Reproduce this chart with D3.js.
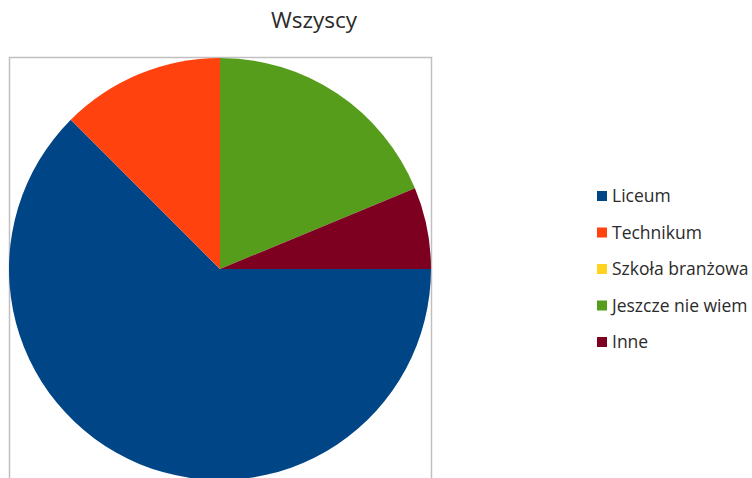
<!DOCTYPE html>
<html>
<head>
<meta charset="utf-8">
<script src="https://cdn.jsdelivr.net/npm/d3@7"></script>
<style>
  body { margin: 0; background: #fff; }
  text { font-family: "Open Sans", "DejaVu Sans", sans-serif; }
</style>
</head>
<body>
<div id="chart"></div>
<script>
var categories = ["Liceum", "Technikum", "Szkoła branżowa", "Jeszcze nie wiem", "Inne"];
var values = [20, 4, 0, 6, 2];
var colors = ["#004586", "#ff420e", "#ffd320", "#579d1c", "#7e0021"];
var title = "Wszyscy";

var width = 752, height = 478;

var svg = d3.select("#chart")
    .append("svg")
    .attr("width", width)
    .attr("height", height);

// title
svg.append("text")
    .attr("x", 314)
    .attr("y", 28)
    .attr("text-anchor", "middle")
    .style("font-size", "22.5px")
    .style("fill", "#2b2b2b")
    .text(title);

// plot frame
svg.append("rect")
    .attr("x", 9.5)
    .attr("y", 57.5)
    .attr("width", 422)
    .attr("height", 440)
    .attr("fill", "none")
    .attr("stroke", "#c0c0c0")
    .attr("stroke-width", 1.5);

var cx = 220, cy = 269, radius = 211;

// slices go clockwise from 3 o'clock
var pie = d3.pie()
    .sort(null)
    .startAngle(Math.PI / 2)
    .endAngle(Math.PI / 2 + 2 * Math.PI);

var arc = d3.arc()
    .innerRadius(0)
    .outerRadius(radius);

var color = d3.scaleOrdinal()
    .domain(categories)
    .range(colors);

svg.append("g")
    .attr("transform", "translate(" + cx + "," + cy + ")")
    .selectAll("path")
    .data(pie(values))
    .enter()
    .append("path")
    .attr("d", arc)
    .attr("fill", function(d, i){ return color(categories[i]); });

// legend
var legend = svg.selectAll(".legendItem")
    .data(categories)
    .enter()
    .append("g")
    .attr("class", "legendItem")
    .attr("transform", function(d, i){
        return "translate(597," + (196 + i * 36.5) + ")";
    });

legend.append("rect")
    .attr("x", 0)
    .attr("y", -5)
    .attr("width", 10)
    .attr("height", 10)
    .attr("fill", function(d){ return color(d); });

legend.append("text")
    .attr("x", 15)
    .attr("y", 0)
    .attr("dy", "0.35em")
    .style("font-size", "17.5px")
    .style("fill", "#2b2b2b")
    .text(function(d){ return d; });
</script>
</body>
</html>
